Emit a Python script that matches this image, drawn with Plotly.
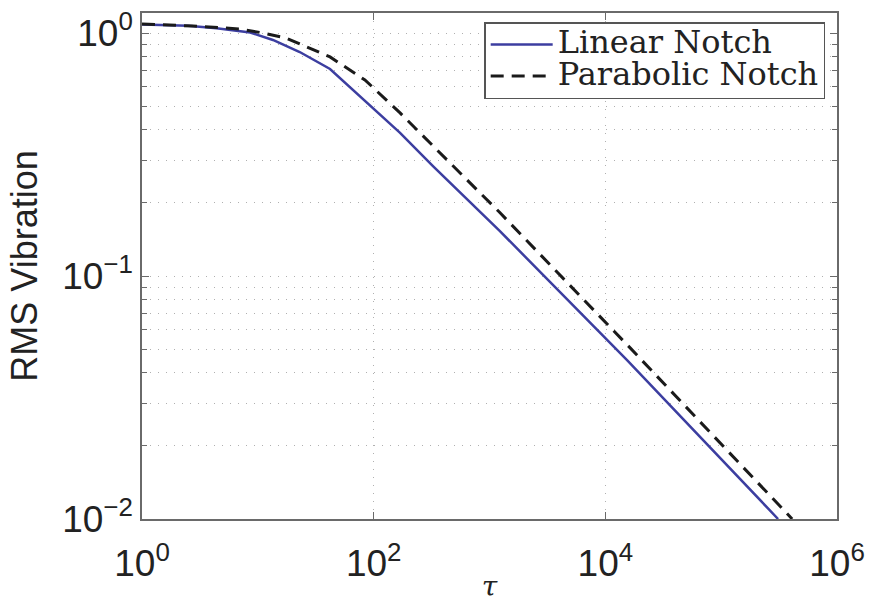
import plotly.graph_objects as go

# RMS vibration versus tau for the two notch profiles
tau_linear = [1, 2.5, 4.4, 8.6, 13.5, 23, 42, 88, 169, 325, 1230, 15400, 3.1e5]
rms_linear = [1.085, 1.07, 1.045, 1.005, 0.936, 0.835, 0.711, 0.515, 0.388, 0.283, 0.153, 0.0451, 0.0100]

tau_parabolic = [1, 2.76, 7.0, 11.1, 17.5, 42, 84, 169, 456, 1233, 16370, 4.1e5]
rms_parabolic = [1.089, 1.068, 1.039, 1.0, 0.954, 0.797, 0.641, 0.469, 0.292, 0.182, 0.0506, 0.0100]

series_names = ["Linear Notch", "Parabolic Notch"]

x_ticks = [1, 1e2, 1e4, 1e6]
x_tick_text = ["10<sup>0</sup>", "10<sup>2</sup>", "10<sup>4</sup>", "10<sup>6</sup>"]
y_ticks = [1e-2, 1e-1, 1]
y_tick_text = ["10<sup>\u22122</sup>", "10<sup>\u22121</sup>", "10<sup>0</sup>"]
y_minor = [k * 10.0 ** e for e in (-2, -1) for k in range(2, 10)]

sans = "Liberation Sans, Arial, sans-serif"
serif = "DejaVu Serif, serif"
axis_col = "#6a6a6a"
grid_col = "#b0b0b0"


def legend_label(text):
    # larger glyphs inside a compact legend row
    return '<span style="font-size:32px">' + text + "</span>"


fig = go.Figure()
fig.add_trace(go.Scatter(
    x=tau_linear, y=rms_linear, mode="lines", name=legend_label(series_names[0]),
    line=dict(color="#3c3ea0", width=2.5),
))
fig.add_trace(go.Scatter(
    x=tau_parabolic, y=rms_parabolic, mode="lines", name=legend_label(series_names[1]),
    line=dict(color="#1a1a1a", width=3, dash="13px,8px"),
))

fig.update_layout(
    width=869, height=603,
    margin=dict(l=142, r=32, t=13, b=84),
    paper_bgcolor="white", plot_bgcolor="white",
    showlegend=True,
    legend=dict(
        x=0.983, y=0.982, xanchor="right", yanchor="top",
        bgcolor="white", bordercolor="#555555", borderwidth=1.5,
        font=dict(family=serif, size=22, color="#222222"),
        itemwidth=62, tracegroupgap=0,
    ),
)

fig.update_xaxes(
    type="log", range=[0, 6], automargin=False,
    tickmode="array", tickvals=x_ticks, ticktext=x_tick_text,
    tickfont=dict(family=sans, size=37, color="#222222"),
    ticklabelstandoff=11,
    ticks="inside", ticklen=7, tickcolor=axis_col, tickwidth=1,
    showline=True, linecolor=axis_col, linewidth=1.5, mirror="allticks",
    showgrid=True, gridcolor=grid_col, griddash="1px,7px", gridwidth=1,
    zeroline=False,
    title=dict(text="<i>\u03c4</i>", font=dict(family=serif, size=28, color="#222222"), standoff=2),
)

fig.update_yaxes(
    type="log", range=[-2, 0.0823], automargin=False,
    tickmode="array", tickvals=y_ticks, ticktext=y_tick_text,
    tickfont=dict(family=sans, size=37, color="#222222"),
    ticks="inside", ticklen=7, tickcolor=axis_col, tickwidth=1,
    showline=True, linecolor=axis_col, linewidth=1.5, mirror="allticks",
    showgrid=True, gridcolor=grid_col, griddash="1px,7px", gridwidth=1,
    zeroline=False,
    minor=dict(
        tickmode="array", tickvals=y_minor, ticks="inside", ticklen=5,
        tickcolor=axis_col, showgrid=True, gridcolor=grid_col,
        griddash="1px,7px", gridwidth=1,
    ),
    title=dict(text="RMS Vibration", font=dict(family=sans, size=36, color="#222222"), standoff=14),
)

fig.write_html("out.html")
